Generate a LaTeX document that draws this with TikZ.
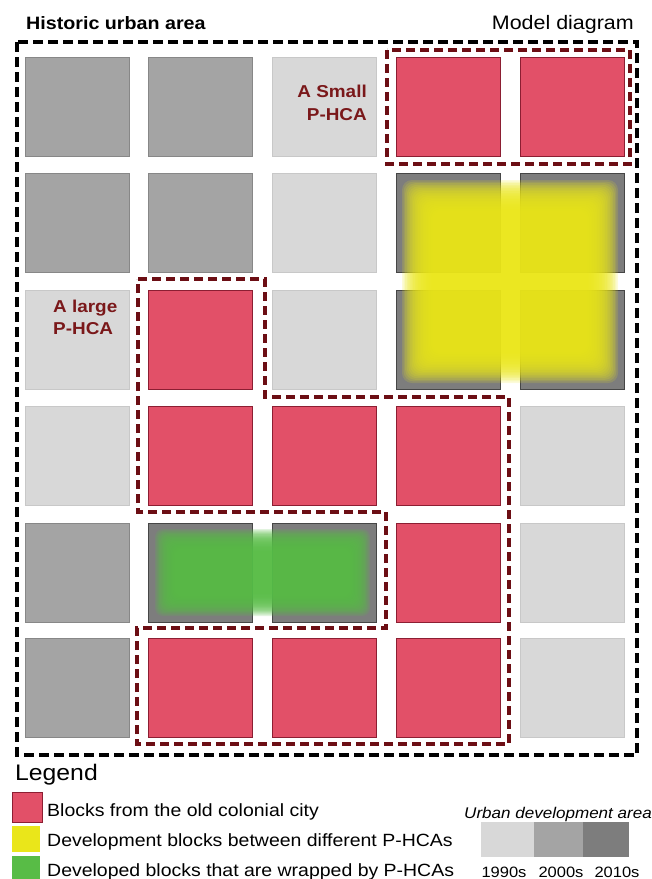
\documentclass[tikz,border=0pt]{standalone}
\usepackage{fontspec}
\setmainfont{Liberation Sans}[FakeStretch=1.1]
\usetikzlibrary{calc}
\definecolor{gA}{RGB}{216,216,216}
\definecolor{gAd}{RGB}{200,200,200}
\definecolor{gB}{RGB}{164,164,164}
\definecolor{gBd}{RGB}{135,135,135}
\definecolor{gC}{RGB}{125,125,125}
\definecolor{gCd}{RGB}{70,70,70}
\definecolor{redblk}{RGB}{226,80,104}
\definecolor{redblkd}{RGB}{140,30,50}
\definecolor{maroon}{RGB}{108,14,20}
\definecolor{labred}{RGB}{122,24,26}
\definecolor{yel}{RGB}{234,230,26}
\definecolor{grn}{RGB}{88,188,70}
\tikzset{
  blk/.style={minimum width=104pt, minimum height=99pt, inner sep=0pt, line width=0.8pt, draw},
  blkA/.style={blk, fill=gA, draw=gAd},
  blkB/.style={blk, fill=gB, draw=gBd},
  blkC/.style={blk, fill=gC, draw=gCd},
  blkR/.style={blk, fill=redblk, draw=redblkd},
  outerdash/.style={draw=black, line width=3.4pt, dash pattern=on 10pt off 5pt},
  reddash/.style={draw=maroon, line width=3.2pt, dash pattern=on 9pt off 5pt},
  lbl/.style={inner sep=0pt, text=labred, font=\bfseries\fontsize{17.2pt}{20pt}\selectfont},
  legtxt/.style={inner sep=0pt, anchor=base west, font=\fontsize{17.7pt}{20pt}\selectfont},
  yrtxt/.style={inner sep=0pt, anchor=base, font=\fontsize{15pt}{18pt}\selectfont},
  swatch/.style={inner sep=0pt, anchor=north west}
}
\begin{document}
\begin{tikzpicture}[x=1pt,y=-1pt]
\useasboundingbox (0,0) rectangle (652,879);

% titles
\node[inner sep=0pt, anchor=base west, font=\bfseries\fontsize{17.9pt}{20pt}\selectfont] (title) at (26,29) {Historic urban area};
\node[inner sep=0pt, anchor=base east, font=\fontsize{19.5pt}{22pt}\selectfont] (model) at (634,29) {Model diagram};

% blocks
\foreach \row/\y/\types in {1/106.5/{B,B,A,R,R}, 2/222.5/{B,B,A,C,C}, 3/339.5/{A,R,A,C,C}, 4/455.5/{A,R,R,R,A}, 5/572.5/{B,C,C,R,A}, 6/687.5/{B,R,R,R,A}}{
  \foreach \t [count=\c] in \types {
    \pgfmathsetmacro\cx{77+123.8*(\c-1)}
    \node[blk\t] (b\row-\c) at (\cx,\y) {};
  }
}

% yellow glow
\foreach \i in {0,...,19}{
  \fill[yel, fill opacity=0.16, rounded corners=10pt] ({402+1.6*\i},{180+1.6*\i}) rectangle ({618-1.6*\i},{383-1.6*\i});
}
% green glow
\foreach \i in {0,...,17}{
  \fill[grn, fill opacity=0.18, rounded corners=8pt] ({155+1.3*\i},{529+1.3*\i}) rectangle ({370-1.3*\i},{616-1.3*\i});
}

% dashed outlines
\draw[outerdash] (17,42) rectangle (637,755);
\draw[reddash] (387,50) rectangle (630,164);
\draw[reddash] (138,279) -- (265,279) -- (265,397) -- (509,397) -- (509,744) -- (137,744) -- (137,628) -- (386,628) -- (386,512) -- (138,512) -- cycle;

% P-HCA labels
\node[lbl, anchor=base east] (s1) at (367,97) {A Small};
\node[lbl, anchor=base east] (s2) at (367,120) {P-HCA};
\node[lbl, anchor=base west] (l1) at (53,312) {A large};
\node[lbl, anchor=base west] (l2) at (53,334) {P-HCA};

% legend
\node[inner sep=0pt, anchor=base west, font=\fontsize{22.5pt}{25pt}\selectfont] (leg) at (15,780) {Legend};
\node[swatch, minimum width=30pt, minimum height=30pt, fill=redblk, draw=redblkd, line width=1pt] (swr) at (12,792) {};
\node[swatch, minimum width=28pt, minimum height=26pt, fill=yel] (swy) at (12,826) {};
\node[swatch, minimum width=28pt, minimum height=24pt, fill=grn] (swg) at (12,856) {};
\node[legtxt] (t1) at (47,816) {Blocks from the old colonial city};
\node[legtxt] (t2) at (47,846) {Development blocks between different P-HCAs};
\node[legtxt] (t3) at (47,876) {Developed blocks that are wrapped by P-HCAs};

\node[inner sep=0pt, anchor=base west, font=\itshape\fontsize{15.5pt}{18pt}\selectfont] (uda) at (464,818) {Urban development area};
\node[swatch, minimum width=53pt, minimum height=35pt, fill=gA] (k1) at (481,822) {};
\node[swatch, minimum width=49pt, minimum height=35pt, fill=gB] (k2) at (534,822) {};
\node[swatch, minimum width=46pt, minimum height=35pt, fill=gC] (k3) at (583,822) {};
\node[yrtxt] (y1) at (504,877) {1990s};
\node[yrtxt] (y2) at (561,877) {2000s};
\node[yrtxt] (y3) at (617,877) {2010s};
\end{tikzpicture}
\end{document}
